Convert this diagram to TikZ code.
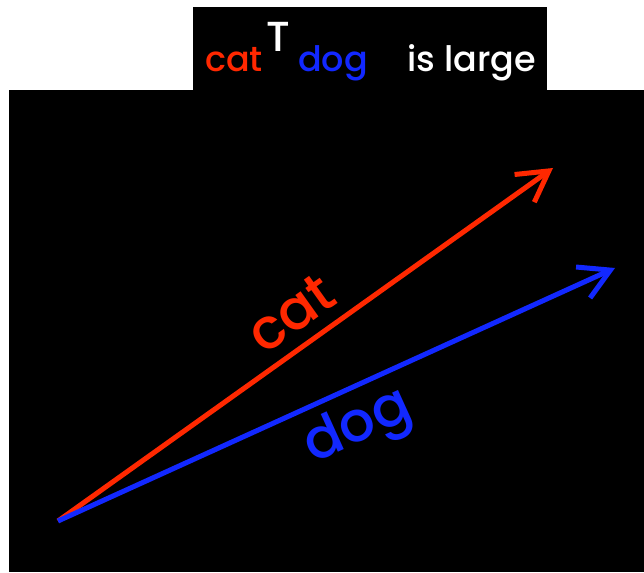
\documentclass[tikz,border=0pt]{standalone}
\usepackage{fontspec}
\setmainfont{Poppins Medium}
\usetikzlibrary{arrows.meta,positioning}

\definecolor{catred}{RGB}{255,40,0}
\definecolor{dogblue}{RGB}{18,40,255}

\begin{document}
\begin{tikzpicture}[x=1pt, y=1pt,
  vec/.style={line width=5pt, -{Straight Barb[length=30pt, width=34pt, line width=5pt]}},
  title/.style={inner sep=0pt, anchor=base west, font=\fontsize{35}{40}\selectfont},
  vlabel/.style={inner sep=0pt, sloped, font=\fontsize{56}{60}\selectfont}]
\useasboundingbox (0,0) rectangle (644,572);

% Backgrounds
\fill[black] (193,482) rectangle (547,565);
\fill[black] (9,0) rectangle (644,482);

% Title
\node[title, catred] (tcat) at (205,500) {cat};
\node[title, white, font=\fontsize{42}{44}\selectfont] (tsup) at (266,520) {T};
\node[title, dogblue] (tdog) at (298,500) {dog};
\node[title, white] (tlarge) at (407,500) {is large};

% Vectors
\coordinate (origin) at (58,51);
\coordinate (catend) at (553,404);
\coordinate (dogend) at (615,304);

\draw[vec, catred] (origin) -- node[vlabel, anchor=base, pos=0.51, yshift=15pt] (catlabel) {cat} (catend);
\draw[vec, dogblue] (origin) -- node[vlabel, anchor=north, pos=0.51, yshift=-9pt] (doglabel) {dog} (dogend);
\end{tikzpicture}
\end{document}
